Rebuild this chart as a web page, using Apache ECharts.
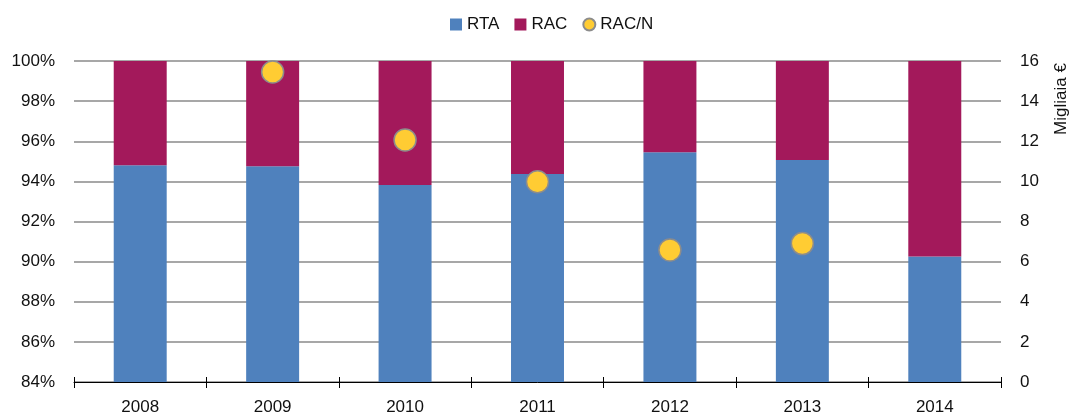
<!DOCTYPE html>
<html>
<head>
<meta charset="utf-8">
<script src="https://cdn.jsdelivr.net/npm/echarts@6/dist/echarts.min.js"></script>
<style>
  html, body { margin: 0; padding: 0; background: #fff; }
  #chart { width: 1073px; height: 416px; }
</style>
</head>
<body>
<div id="chart"></div>
<script>
// Years on the category axis
const years = ['2008', '2009', '2010', '2011', '2012', '2013', '2014'];
// Share of RTA (percent of total)
const rtaShare = [94.8, 94.75, 93.82, 94.37, 95.45, 95.07, 90.25];
// Share of RAC (remaining part up to 100%)
const racShare = [5.2, 5.25, 6.18, 5.63, 4.55, 4.93, 9.75];
// RAC per capita, thousands of euro (right axis)
const racPerN = [null, 15.45, 12.06, 9.98, 6.58, 6.9, null];

const FONT = '"Liberation Sans", Arial, sans-serif';
const TXT = '#111';
const FS = 17;

const chart = echarts.init(document.getElementById('chart'), null, { renderer: 'canvas' });

chart.setOption({
  animation: false,
  textStyle: { fontFamily: FONT },
  legend: {
    top: 11,
    left: 445,
    itemWidth: 12,
    itemHeight: 12,
    itemGap: 15,
    textStyle: { fontSize: FS, color: TXT, fontFamily: FONT },
    data: [
      { name: 'RTA', icon: 'rect' },
      { name: 'RAC', icon: 'rect' },
      { name: 'RAC/N', icon: 'circle' }
    ]
  },
  grid: { left: 74, right: 72, top: 61, bottom: 34, containLabel: false },
  xAxis: [
    {
      type: 'category',
      data: years,
      boundaryGap: true,
      axisLine: { lineStyle: { color: '#000', width: 1 } },
      axisTick: { show: true, length: 6, lineStyle: { color: '#000' } },
      axisLabel: { fontSize: FS, color: TXT, margin: 17, fontFamily: FONT }
    },
    {
      // inner half of the crossing tick marks
      type: 'category',
      data: years,
      position: 'bottom',
      boundaryGap: true,
      axisLine: { show: false },
      axisTick: { show: true, inside: true, length: 5, lineStyle: { color: '#000' } },
      axisLabel: { show: false }
    }
  ],
  yAxis: [
    {
      type: 'value',
      min: 84,
      max: 100,
      interval: 2,
      axisLine: { show: false },
      axisTick: { show: false },
      axisLabel: { fontSize: FS, color: TXT, margin: 19, formatter: v => v + '%', fontFamily: FONT },
      splitLine: { lineStyle: { color: '#8a8a8a', width: 1.5 } }
    },
    {
      type: 'value',
      min: 0,
      max: 16,
      interval: 2,
      position: 'right',
      axisLine: { show: false },
      axisTick: { show: false },
      axisLabel: { fontSize: FS, color: TXT, margin: 19, fontFamily: FONT },
      splitLine: { show: false }
    }
  ],
  graphic: [
    {
      type: 'text',
      x: 1061,
      y: 99,
      rotation: Math.PI / 2,
      style: {
        text: 'Migliaia €',
        fontSize: FS,
        fontFamily: FONT,
        fill: TXT,
        align: 'center',
        verticalAlign: 'middle'
      }
    }
  ],
  series: [
    {
      name: 'RTA',
      type: 'bar',
      stack: 'quota',
      barWidth: '40%',
      data: rtaShare,
      itemStyle: { color: '#4F81BD' }
    },
    {
      name: 'RAC',
      type: 'bar',
      stack: 'quota',
      barWidth: '40%',
      data: racShare,
      itemStyle: { color: '#A3195B' }
    },
    {
      name: 'RAC/N',
      type: 'scatter',
      yAxisIndex: 1,
      symbol: 'circle',
      symbolSize: 22,
      data: racPerN,
      itemStyle: { color: '#FFCC33', borderColor: '#8c8c8c', borderWidth: 1.5, opacity: 1 },
      z: 5
    }
  ]
});
</script>
</body>
</html>
